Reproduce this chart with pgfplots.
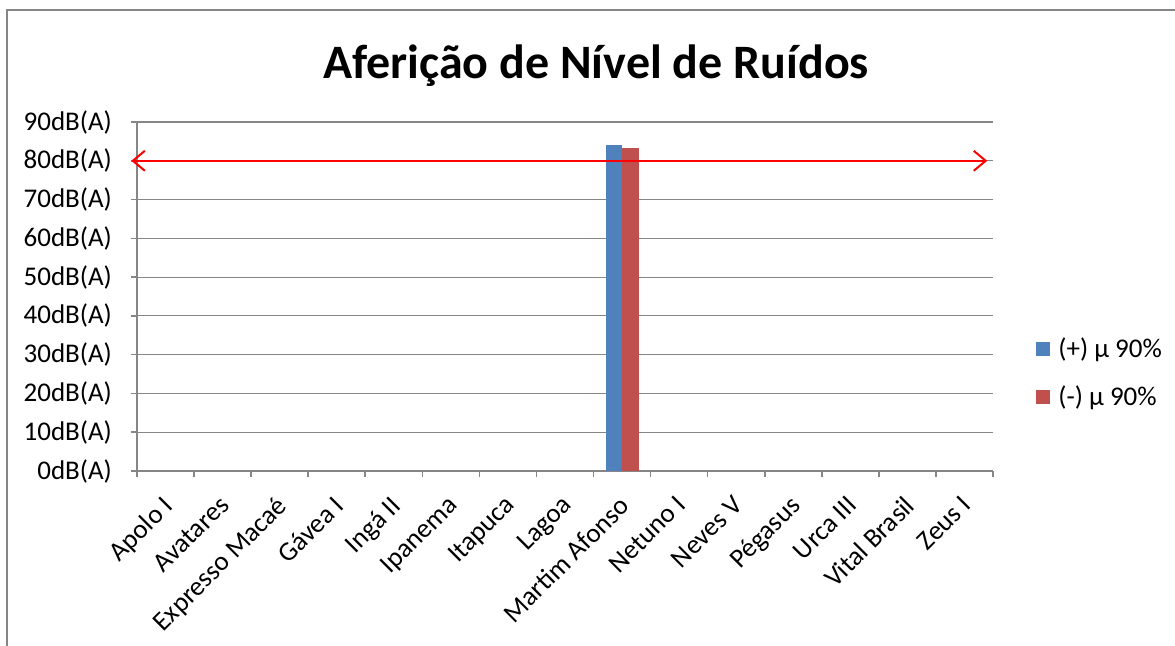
\documentclass[border=0pt]{standalone}
\usepackage{fontspec}
\setmainfont{Carlito}
\usepackage{pgfplots}
\pgfplotsset{compat=1.18}
\usetikzlibrary{arrows.meta}
\definecolor{xlblue}{HTML}{4F81BD}
\definecolor{xlred}{HTML}{C0504D}
\definecolor{xlgray}{HTML}{868686}
\begin{document}
\begin{tikzpicture}[x=1pt,y=1pt]
\useasboundingbox (0,0) rectangle (587.5,-323);
\draw[xlgray, line width=1pt] (3.5,-330) -- (3.5,-5) -- (600,-5);
\node[font=\fontsize{24}{28}\selectfont\bfseries] at (298,-33) {Aferição de Nível de Ruídos};
\begin{axis}[
  at={(68.5pt,-235.5pt)}, anchor=south west,
  scale only axis, width=428pt, height=174.5pt,
  xmin=-0.5, xmax=14.5, ymin=0, ymax=90,
  clip=false,
  axis line style={xlgray, line width=0.8pt},
  axis x line*=bottom, axis y line*=left,
  ytick={0,10,...,90},
  yticklabels={0dB(A),10dB(A),20dB(A),30dB(A),40dB(A),50dB(A),60dB(A),70dB(A),80dB(A),90dB(A)},
  ymajorgrids, grid style={xlgray, line width=0.6pt},
  xtick={0,...,14},
  xticklabels={Apolo I,Avatares,Expresso Macaé,Gávea I,Ingá II,Ipanema,Itapuca,Lagoa,Martim Afonso,Netuno I,Neves V,Pégasus,Urca III,Vital Brasil,Zeus I},
  minor xtick={-0.5,0.5,...,14.5},
  major x tick style={draw=none},
  minor tick length=3pt, major tick length=3pt,
  tick align=outside,
  tick style={xlgray, line width=0.8pt},
  ticklabel style={font=\fontsize{13.5}{16}\selectfont},
  yticklabel style={xshift=-6pt},
  xticklabel style={rotate=45, anchor=north east, xshift=-4.2pt, yshift=-1.1pt},
  legend style={draw=none, fill=none, at={(1.0502,0.281)}, anchor=west,
    font=\fontsize{13.5}{16}\selectfont, row sep=8.5pt, inner sep=0pt},
  legend cell align=left,
  legend image code/.code={\fill[#1] (0pt,-3.5pt) rectangle (7pt,3.5pt); \path (9pt,0pt);},
]
\addplot[ybar, bar width=8.25pt, bar shift=-4.125pt, fill=xlblue, draw=none] coordinates {(8,84.1)};
\addlegendentry{(+) µ 90\%}
\addplot[ybar, bar width=8.25pt, bar shift=4.125pt, fill=xlred, draw=none] coordinates {(8,83.3)};
\addlegendentry{(-) µ 90\%}
\addplot[red, line width=1pt, {Straight Barb[length=6pt,width=10pt,line width=1pt]}-{Straight Barb[length=6pt,width=10pt,line width=1pt]}, forget plot] coordinates {(-0.6,80) (14.4,80)};
\end{axis}
\end{tikzpicture}
\end{document}
